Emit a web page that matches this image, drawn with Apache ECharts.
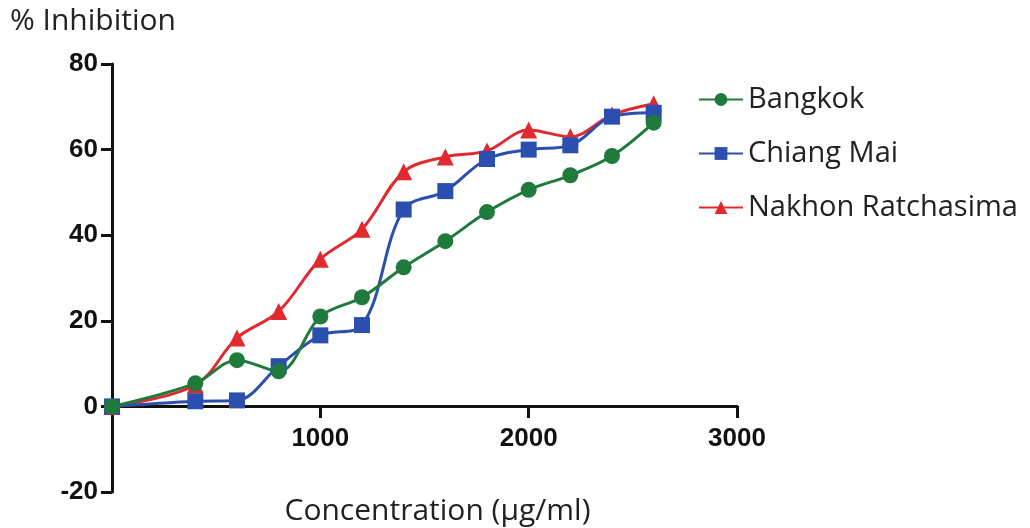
<!DOCTYPE html>
<html>
<head>
<meta charset="utf-8">
<script src="https://cdn.jsdelivr.net/npm/echarts@6/dist/echarts.min.js"></script>
<style>
html, body { margin: 0; padding: 0; background: #fff; }
#chart { width: 1030px; height: 528px; }
</style>
</head>
<body>
<div id="chart"></div>
<script>
// 浓度 (µg/ml)
var concentration = [0, 400, 600, 800, 1000, 1200, 1400, 1600, 1800, 2000, 2200, 2400, 2600];
var bangkok = [0, 5.4, 10.8, 8.2, 21, 25.5, 32.5, 38.6, 45.4, 50.6, 54, 58.5, 66.3];
var chiangMai = [0, 1.2, 1.4, 9.4, 16.6, 19, 46, 50.3, 57.8, 60, 61, 67.7, 68.6];
var nakhon = [0, 5, 16, 22.2, 34.4, 41.4, 54.8, 58.3, 59.7, 64.6, 63, 68.1, 70.7];
var yTicks = [-20, 0, 20, 40, 60, 80];
var xTicks = [0, 1000, 2000, 3000];

function pairs(values) {
    var out = [];
    for (var i = 0; i < concentration.length; i++) {
        out.push([concentration[i], values[i]]);
    }
    return out;
}

function makeSeries(name, values, color, symbol, size) {
    return {
        name: name,
        type: 'line',
        smooth: 0.35,
        symbol: symbol,
        symbolSize: size,
        lineStyle: { color: color, width: 3 },
        itemStyle: { color: color },
        data: pairs(values)
    };
}

var chart = echarts.init(document.getElementById('chart'));
var option = {
    animation: false,
    textStyle: { fontFamily: 'Open Sans' },
    legend: {
        orient: 'vertical',
        left: 693,
        top: 80,
        itemGap: 25,
        itemWidth: 44,
        itemHeight: 16,
        textStyle: { fontSize: 29, color: '#222', fontFamily: 'Open Sans' },
        data: ['Bangkok', 'Chiang Mai', 'Nakhon Ratchasima']
    },
    grid: { left: 112, right: 293, top: 64, bottom: 36, containLabel: false, outerBoundsMode: 'none' },
    xAxis: {
        type: 'value',
        min: xTicks[0],
        max: xTicks[xTicks.length - 1],
        interval: 1000,
        // 轴线放在 y=0 处
        offset: -86,
        name: 'Concentration (µg/ml)',
        nameLocation: 'middle',
        nameGap: 90,
        nameTextStyle: { fontSize: 30, color: '#222', fontFamily: 'Open Sans', padding: [0, 0, 0, 26] },
        axisLine: { onZero: false, lineStyle: { color: '#111', width: 3 } },
        axisTick: { inside: false, length: 12, lineStyle: { color: '#111', width: 3 } },
        axisLabel: {
            margin: 20,
            fontSize: 26,
            fontWeight: 'bold',
            color: '#111',
            fontFamily: 'Liberation Sans',
            formatter: function (v) { return v === 0 ? '' : v; }
        },
        splitLine: { show: false }
    },
    yAxis: {
        type: 'value',
        min: yTicks[0],
        max: yTicks[yTicks.length - 1],
        interval: 20,
        name: '% Inhibition',
        nameLocation: 'end',
        nameGap: 28,
        nameTextStyle: { fontSize: 30, color: '#222', fontFamily: 'Open Sans', align: 'left', padding: [0, 0, 0, -102] },
        axisLine: { show: true, onZero: false, lineStyle: { color: '#111', width: 3 } },
        axisTick: { show: true, length: 11, lineStyle: { color: '#111', width: 3 } },
        axisLabel: {
            margin: 14,
            fontSize: 26,
            fontWeight: 'bold',
            color: '#111',
            fontFamily: 'Liberation Sans'
        },
        splitLine: { show: false }
    },
    series: [
        makeSeries('Nakhon Ratchasima', nakhon, '#e12a2f', 'triangle', 17),
        makeSeries('Chiang Mai', chiangMai, '#2b4fae', 'rect', 16),
        makeSeries('Bangkok', bangkok, '#1f7a3c', 'circle', 16)
    ]
};
chart.setOption(option);
</script>
</body>
</html>
